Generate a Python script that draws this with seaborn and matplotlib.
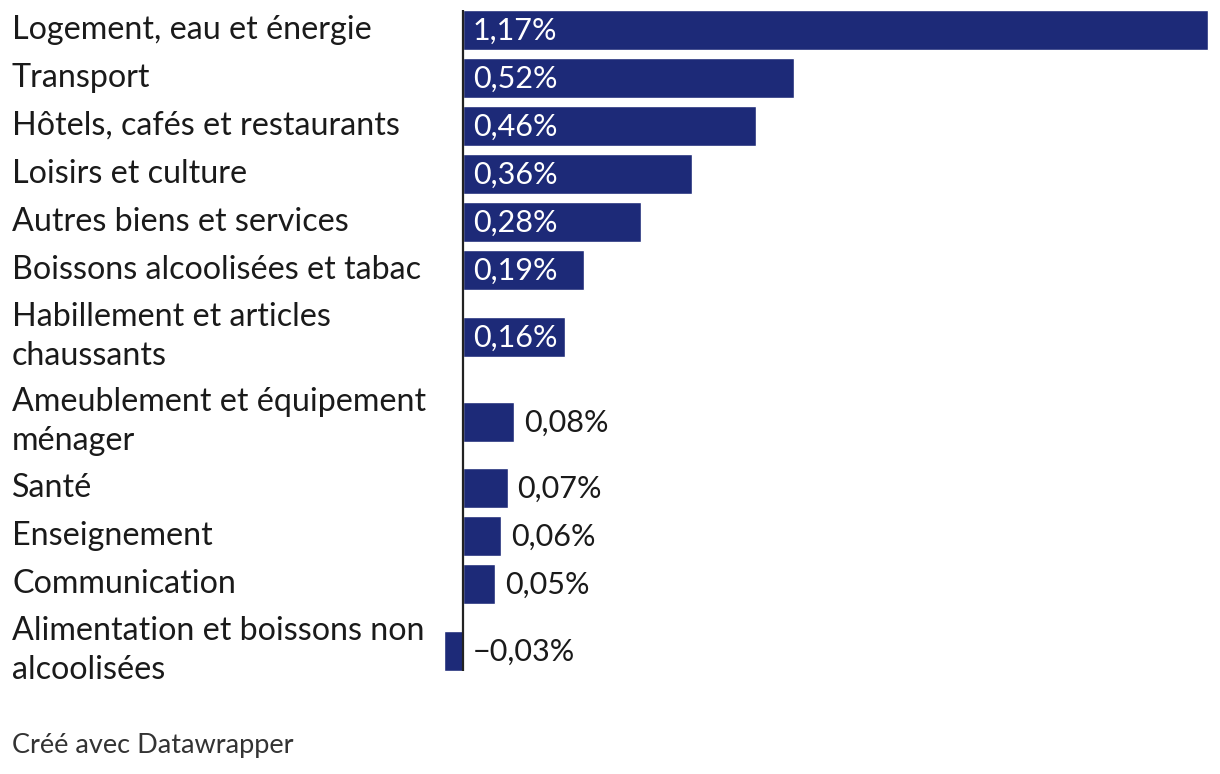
import matplotlib
matplotlib.use("Agg")
import matplotlib.pyplot as plt
import numpy as np
import pandas as pd
import seaborn as sns

categories = [
    "Logement, eau et énergie",
    "Transport",
    "Hôtels, cafés et restaurants",
    "Loisirs et culture",
    "Autres biens et services",
    "Boissons alcoolisées et tabac",
    "Habillement et articles\nchaussants",
    "Ameublement et équipement\nménager",
    "Santé",
    "Enseignement",
    "Communication",
    "Alimentation et boissons non\nalcoolisées",
]
values = [1.17, 0.52, 0.46, 0.36, 0.28, 0.19, 0.16, 0.08, 0.07, 0.06, 0.05, -0.03]
footer = "Créé avec Datawrapper"

bar_color = "#1d2a78"
text_color = "#1a1a1a"

# layout in pixels (figure is 1220x774 at dpi 100)
W, H = 1220, 774
x0_px = 463          # position of the zero line
ppu = 636.8          # pixels per percentage point
top = 10
bar_h = 40
line_h = 37
gap = 8

# row centres, taller rows for two-line labels
centers = []
y = top
for c in categories:
    n = c.count("\n") + 1
    h = bar_h + line_h * (n - 1)
    centers.append(y + h / 2)
    y += h + gap

df = pd.DataFrame({"cat": categories, "val": values, "pos": centers})

sns.set_style("white")
plt.rcParams["font.family"] = ["Lato", "DejaVu Sans"]

fig = plt.figure(figsize=(W / 100, H / 100), dpi=100)
ax = fig.add_axes([0, 0, 1, 1])

min_step = np.min(np.diff(centers))
sns.barplot(data=df, x="val", y="pos", orient="y", native_scale=True,
            width=bar_h / min_step, color=bar_color, saturation=1,
            errorbar=None, ax=ax)

ax.set_xlim(-x0_px / ppu, (W - x0_px) / ppu)
ax.set_ylim(H, 0)
ax.axis("off")

# zero line
ax.plot([0, 0], [centers[0] - bar_h / 2, centers[-1] + bar_h / 2],
        color="#222222", lw=1.6, solid_capstyle="butt", zorder=3)

fs = 23.2
fs_val = 22
pad = 10 / ppu
label_x = (12 - x0_px) / ppu
for cat, v, yc in zip(categories, values, centers):
    ax.text(label_x, yc, cat, ha="left", va="center", fontsize=fs,
            color=text_color, linespacing=1.4)
    txt = f"{v:.2f}%".replace(".", ",").replace("-", "\u2212")
    if v >= 0.15:
        ax.text(pad, yc + 1, txt, ha="left", va="center", fontsize=fs_val, color="white")
    else:
        ax.text(max(v, 0) + pad, yc + 1, txt, ha="left", va="center",
                fontsize=fs_val, color=text_color)

ax.text(label_x, 745, footer, ha="left", va="center", fontsize=19.5, color="#333333")

plt.savefig("out.png", dpi=100)
